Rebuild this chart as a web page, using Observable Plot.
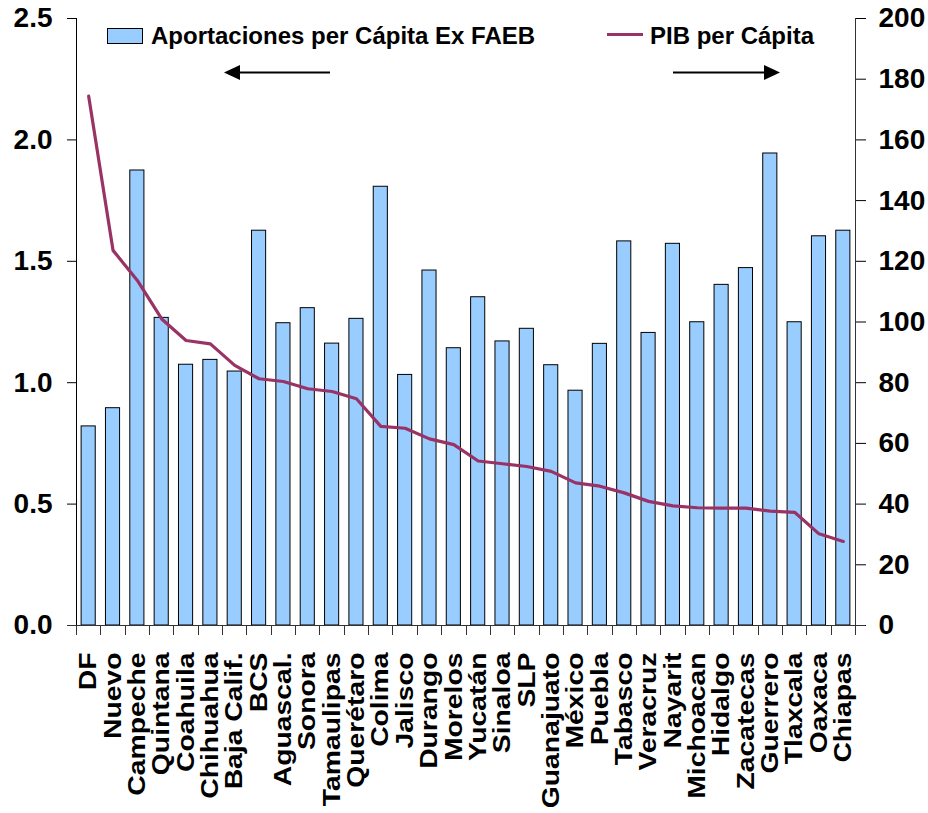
<!DOCTYPE html>
<html><head><meta charset="utf-8">
<script src="https://cdn.jsdelivr.net/npm/d3@7"></script>
<script src="https://cdn.jsdelivr.net/npm/@observablehq/plot@0.6"></script>
<style>body{margin:0;background:#fff} #chart{width:928px;height:813px}</style>
</head><body><div id="chart"></div>
<script>
const states = ["DF","Nuevo","Campeche","Quintana","Coahuila","Chihuahua","Baja Calif.","BCS","Aguascal.","Sonora","Tamaulipas","Querétaro","Colima","Jalisco","Durango","Morelos","Yucatán","Sinaloa","SLP","Guanajuato","México","Puebla","Tabasco","Veracruz","Nayarit","Michoacan","Hidalgo","Zacatecas","Guerrero","Tlaxcala","Oaxaca","Chiapas"];
const aportaciones = [0.82,0.895,1.874,1.267,1.074,1.094,1.046,1.626,1.245,1.307,1.161,1.263,1.807,1.032,1.462,1.142,1.352,1.170,1.222,1.072,0.967,1.160,1.582,1.205,1.572,1.249,1.403,1.472,1.944,1.249,1.603,1.626];
const pib = [174.4,123.6,113.7,101.0,93.9,92.8,85.7,81.3,80.4,78.0,77.1,74.7,65.6,65.0,61.5,59.6,54.2,53.3,52.4,50.8,47.0,45.9,43.7,40.9,39.4,38.8,38.7,38.7,37.7,37.3,30.2,27.7];
const leftTicks = [0,0.5,1.0,1.5,2.0,2.5];
const rightTicks = [0,20,40,60,80,100,120,140,160,180,200];
const seriesNames = ["Aportaciones per Cápita Ex FAEB","PIB per Cápita"];

const RATIO = 2.5/200;
const data = states.map((s,i)=>({state:s, aport:aportaciones[i], pib:pib[i]}));
const W=928,H=813,ML=76,MR=73,MT=18,MB=188;
const STEP = (W-ML-MR)/states.length;
const INSET = STEP*0.21;
const BAR="#99CCFF", LINE="#993366";
const FONT="'Liberation Sans', Arial, Helvetica, sans-serif";

function decor(index, scales, values, dim) {
  const left = dim.marginLeft, right = dim.width - dim.marginRight;
  const top = dim.marginTop, bottom = dim.height - dim.marginBottom;
  const n = states.length, step = (right-left)/n;
  const g = d3.create("svg:g").attr("fill","none").attr("text-anchor","start");
  g.append("line").attr("x1",left+0.5).attr("x2",left+0.5).attr("y1",top).attr("y2",bottom).attr("stroke","#000");
  g.append("line").attr("x1",right+0.5).attr("x2",right+0.5).attr("y1",top).attr("y2",bottom).attr("stroke","#333");
  g.append("line").attr("x1",left-9).attr("x2",right+10).attr("y1",bottom+0.5).attr("y2",bottom+0.5).attr("stroke","#333");
  for (let i=0;i<=n;i++){
    const x = Math.round(left+i*step)+0.5;
    g.append("line").attr("x1",x).attr("x2",x).attr("y1",bottom).attr("y2",bottom+10).attr("stroke","#333");
  }
  // legend
  g.append("rect").attr("x",107.5).attr("y",28.5).attr("width",35).attr("height",15).attr("fill",BAR).attr("stroke","#000");
  g.append("text").attr("x",151).attr("y",44).attr("fill","#000").attr("text-anchor","start").attr("font-size",24).attr("font-weight","bold").attr("font-family",FONT).text(seriesNames[0]);
  g.append("line").attr("x1",607).attr("x2",643).attr("y1",34.5).attr("y2",34.5).attr("stroke",LINE).attr("stroke-width",3);
  g.append("text").attr("x",650).attr("y",44).attr("fill","#000").attr("text-anchor","start").attr("font-size",24).attr("font-weight","bold").attr("font-family",FONT).text(seriesNames[1]);
  // arrows
  const ay = 72.5;
  g.append("line").attr("x1",330).attr("x2",236).attr("y1",ay).attr("y2",ay).attr("stroke","#000").attr("stroke-width",2);
  g.append("path").attr("d",`M224,${ay}L240,${ay-7.5}L240,${ay+7.5}Z`).attr("fill","#000");
  g.append("line").attr("x1",673).attr("x2",768).attr("y1",ay).attr("y2",ay).attr("stroke","#000").attr("stroke-width",2);
  g.append("path").attr("d",`M780,${ay}L764,${ay-7.5}L764,${ay+7.5}Z`).attr("fill","#000");
  return g.node();
}

const chart = Plot.plot({
  width: W, height: H, marginLeft: ML, marginRight: MR, marginTop: MT, marginBottom: MB,
  style: {fontFamily: FONT, fontWeight: "bold", color: "#000", background: "#fff", overflow: "visible"},
  x: {domain: states, padding: 0, round: false, label: null},
  y: {domain: [0, 2.5], label: null},
  marks: [
    Plot.barY(data, {x: "state", y: "aport", fill: BAR, stroke: "#000", strokeWidth: 1, insetLeft: INSET, insetRight: INSET}),
    Plot.line(data, {x: "state", y: d => d.pib*RATIO, stroke: LINE, strokeWidth: 3.2}),
    Plot.axisY(leftTicks, {anchor: "left", tickSize: 9, tickPadding: 15, tickFormat: d3.format(".1f"), fontSize: 28, label: null}),
    Plot.axisY(rightTicks.map(v => v*RATIO), {anchor: "right", tickSize: 10, tickPadding: 13, tickFormat: d => String(Math.round(d/RATIO)), fontSize: 28, label: null}),
    Plot.axisX({tickSize: 0, tickRotate: -90, tickPadding: 27, fontSize: 24, label: null}),
    decor
  ]
});
document.getElementById("chart").appendChild(chart);
d3.select(chart).selectAll("text").each(function(){
  if (states.includes(this.textContent)) {
    const t = this.getAttribute("transform") || "";
    if (t.includes("rotate")) this.setAttribute("transform", t + " scale(1.18,1)");
  }
});
</script>
</body></html>
